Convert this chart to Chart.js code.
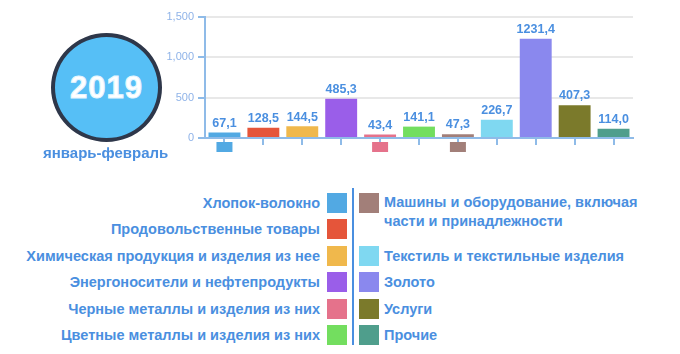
<!DOCTYPE html>
<html>
<head>
<meta charset="utf-8">
<script src="https://cdn.jsdelivr.net/npm/chart.js@4/dist/chart.umd.min.js"></script>
<style>
  html, body { margin: 0; padding: 0; background: #fff; }
  body { width: 680px; height: 354px; position: relative; overflow: hidden;
         font-family: "Liberation Sans", Arial, sans-serif; }
  #wrap { position: absolute; left: 0; top: 0; width: 680px; height: 175px; }
  .badge { position: absolute; left: 51px; top: 33px; width: 103px; height: 101px;
           border-radius: 50%; border: 4px solid #2e374a; background: #56bff6;
           display: flex; align-items: center; justify-content: center;
           color: #fff; font-weight: bold; font-size: 31px; letter-spacing: 1px;
           -webkit-text-stroke: 1px #e6f6ff; }
  .period { position: absolute; left: 43px; top: 144px; font-weight: bold; font-size: 15px; color: #4a8fe0; }
  .row { position: absolute; height: 20px; line-height: 20px; font-weight: bold; font-size: 14.5px; color: #4a8fe0; white-space: nowrap; }
  .sq { position: absolute; width: 20px; height: 20px; }
  .vline { position: absolute; left: 352px; top: 188px; width: 2px; height: 157px; background: #4a8fe0; }
</style>
</head>
<body>
<div id="wrap"><canvas id="myChart"></canvas></div>
<div class="badge">2019</div>
<div class="period">январь-февраль</div>
<div class="vline"></div>
<div id="legend"></div>
<script>
const categories = [
  "Хлопок-волокно",
  "Продовольственные товары",
  "Химическая продукция и изделия из нее",
  "Энергоносители и нефтепродукты",
  "Черные металлы и изделия из них",
  "Цветные металлы и изделия из них",
  "Машины и оборудование, включая части и принадлежности",
  "Текстиль и текстильные изделия",
  "Золото",
  "Услуги",
  "Прочие"
];
const values = [67.1, 128.5, 144.5, 485.3, 43.4, 141.1, 47.3, 226.7, 1231.4, 407.3, 114.0];
const colors = ["#52a9e3", "#e5553a", "#f0b84c", "#9a5ee9", "#e5728b", "#73de5f",
                "#a27f79", "#7fd8f1", "#8a88ee", "#7b7a2b", "#4f9e8c"];
// categories that show a small icon square under the axis
const iconFlags = [true, false, false, false, true, false, true, false, false, false, false];

const blue = "#4a8fe0";

const valueLabels = {
  id: "valueLabels",
  afterDatasetsDraw(chart) {
    const ctx = chart.ctx;
    const meta = chart.getDatasetMeta(0);
    ctx.save();
    ctx.font = "bold 12.5px 'Liberation Sans', Arial, sans-serif";
    ctx.fillStyle = blue;
    ctx.textAlign = "center";
    ctx.textBaseline = "bottom";
    meta.data.forEach((bar, i) => {
      ctx.fillText(values[i].toFixed(1).replace(".", ","), bar.x, bar.y - 3);
    });
    ctx.restore();
  }
};

const axisIcons = {
  id: "axisIcons",
  afterDraw(chart) {
    const ctx = chart.ctx;
    const x = chart.scales.x;
    const y0 = chart.scales.y.getPixelForValue(0);
    ctx.save();
    iconFlags.forEach((f, i) => {
      if (!f) return;
      ctx.fillStyle = colors[i];
      ctx.fillRect(x.getPixelForValue(i) - 8, y0 + 4, 16, 10);
    });
    ctx.restore();
  }
};

new Chart(document.getElementById("myChart"), {
  type: "bar",
  data: {
    labels: categories,
    datasets: [{
      data: values,
      backgroundColor: colors,
      barPercentage: 0.82,
      categoryPercentage: 1.0
    }]
  },
  options: {
    responsive: true,
    maintainAspectRatio: false,
    animation: false,
    events: [],
    layout: { padding: { left: 150, right: 47, top: 17, bottom: 30 } },
    plugins: { legend: { display: false }, tooltip: { enabled: false } },
    scales: {
      x: {
        ticks: { display: false },
        border: { color: "#8fbbe8", width: 2 },
        grid: { drawOnChartArea: false, offset: false, tickLength: 7, tickColor: "#8fbbe8", lineWidth: 2 }
      },
      y: {
        min: 0, max: 1500,
        afterFit(s) { s.width = 55; },
        ticks: { stepSize: 500, padding: 4, color: "#8fb3e8",
                 font: { family: "'Liberation Sans', Arial, sans-serif", size: 11 },
                 callback: v => v.toLocaleString("en-US") },
        border: { color: "#8fbbe8", width: 2 },
        grid: { color: "#e8e8e8", lineWidth: 2, tickLength: 7, tickColor: "#8fbbe8" }
      }
    }
  },
  plugins: [valueLabels, axisIcons]
});

// legend: left column categories 0-5, right column 6-10
const legend = document.getElementById("legend");
const rowTop = r => 193 + r * 26.4;
const rightRows = [0, 2, 3, 4, 5];
categories.forEach((name, i) => {
  const sq = document.createElement("div");
  sq.className = "sq";
  sq.style.background = colors[i];
  const t = document.createElement("div");
  t.className = "row";
  if (i < 6) {
    const top = rowTop(i);
    sq.style.left = "327px"; sq.style.top = top + "px";
    t.style.right = (680 - 320) + "px"; t.style.top = top + "px"; t.style.textAlign = "right";
    t.textContent = name;
  } else {
    const top = rowTop(rightRows[i - 6]);
    sq.style.left = "359px"; sq.style.top = top + "px";
    t.style.left = "384px"; t.style.top = top + "px";
    if (i === 6) {
      t.style.lineHeight = "19px";
      t.style.height = "40px";
      t.innerHTML = "Машины и оборудование, включая<br>части и принадлежности";
    } else {
      t.textContent = name;
    }
  }
  legend.appendChild(sq);
  legend.appendChild(t);
});
</script>
</body>
</html>
